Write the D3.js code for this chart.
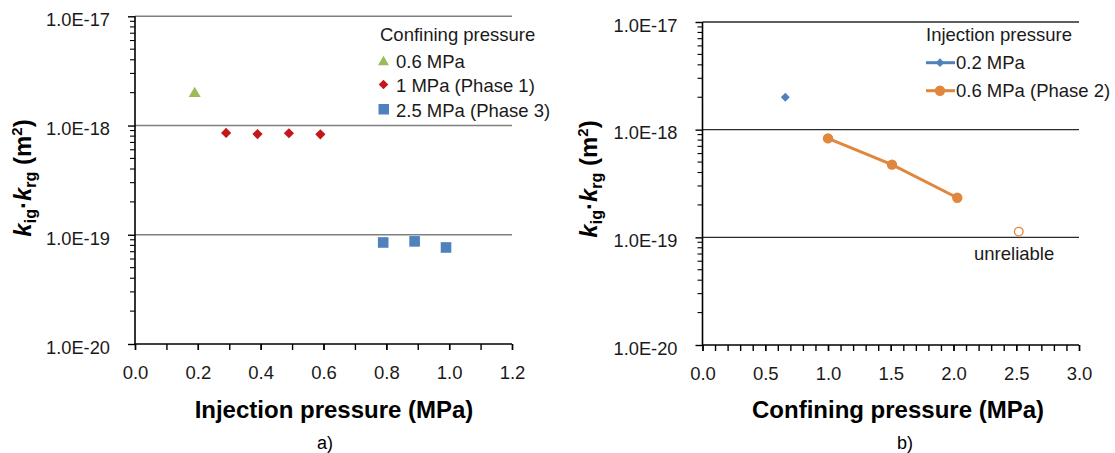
<!DOCTYPE html>
<html>
<head>
<meta charset="utf-8">
<script src="https://cdn.jsdelivr.net/npm/d3@7"></script>
<style>
  body { margin: 0; background: #fff; }
  svg { font-family: "Liberation Sans", Arial, sans-serif; }
</style>
</head>
<body>
<svg id="chart" width="1115" height="453"></svg>
<script>
// ---- data ----
// panel a) : x = injection pressure (MPa)
const confining06X = [0.19];
const confining06Y = [2.0e-18];
const confining1X = [0.29, 0.39, 0.49, 0.59];
const confining1Y = [8.55e-19, 8.35e-19, 8.5e-19, 8.3e-19];
const confining25X = [0.79, 0.89, 0.99];
const confining25Y = [8.5e-20, 8.7e-20, 7.65e-20];

// panel b) : x = confining pressure (MPa)
const injection02X = [0.66];
const injection02Y = [2.0e-18];
const injection06X = [1.0, 1.51, 2.03];
const injection06Y = [8.3e-19, 4.73e-19, 2.33e-19];
const unreliableX = [2.52];
const unreliableY = [1.13e-19];

const yTicks = [1e-20, 1e-19, 1e-18, 1e-17];
const yTickLabels = ['1.0E-20', '1.0E-19', '1.0E-18', '1.0E-17'];
const xTicksA = [0, 0.2, 0.4, 0.6, 0.8, 1.0, 1.2];
const xTicksB = [0, 0.5, 1.0, 1.5, 2.0, 2.5, 3.0];

const legendA = ['0.6 MPa', '1 MPa (Phase 1)', '2.5 MPa (Phase 3)'];
const legendB = ['0.2 MPa', '0.6 MPa (Phase 2)'];

const colors = {
    green: '#9bbb59',
    red: '#c4161c',
    blue: '#4f81bd',
    orange: '#e0873d',
}

const svg = d3.select('#chart');
const FS = 18.5; // tick / legend font size

function drawPanel(p) {
    let g = svg.append('g');
    let x = d3.scaleLinear().domain([0, p.xMax]).range([p.left, p.right]);
    let y = d3.scaleLog().domain([1e-20, 1e-17]).range([p.bottom, p.top]);

    // gridlines at each decade
    g.selectAll('.grid')
        .data(yTicks.slice(1))
        .enter()
        .append('line')
        .attr('x1', p.left).attr('x2', p.right)
        .attr('y1', d => y(d)).attr('y2', d => y(d))
        .attr('stroke', p.gridColor)
        .attr('stroke-width', 1.4)

    // minor y ticks (2..9 in each decade)
    let minor = [];
    for (let e = -20; e < -17; e++) {
        for (let m = 2; m < 10; m++) minor.push(m * Math.pow(10, e));
    }
    g.selectAll('.minor')
        .data(minor)
        .enter()
        .append('line')
        .attr('x1', p.left - 5).attr('x2', p.left)
        .attr('y1', d => y(d)).attr('y2', d => y(d))
        .attr('stroke', '#000')
        .attr('stroke-width', 1.1)

    // y axis with major ticks
    let yAxis = d3.axisLeft(y)
        .tickValues(yTicks)
        .tickFormat((d, i) => yTickLabels[i])
        .tickSize(7)
        .tickPadding(18)
    let ya = g.append('g').attr('transform', 'translate(' + p.left + ',0)').call(yAxis);
    ya.select('.domain').attr('stroke-width', 1.6).attr('d', 'M0,' + p.top + 'V' + p.bottom);
    ya.selectAll('.tick line').attr('stroke-width', 1.4);
    // labels in the picture are narrow: squeeze them to their width
    ya.selectAll('text').attr('font-size', FS).attr('fill', '#1a1a1a')
        .attr('font-family', '"Liberation Sans", Arial, sans-serif')
        .attr('dy', '0.5em')
        .attr('textLength', 64).attr('lengthAdjust', 'spacingAndGlyphs');

    // x axis: ticks every 0.1, labels on majors
    let xAxisMinor = d3.axisBottom(x)
        .tickValues(d3.range(0, Math.round(p.xMax * 10) + 1).map(i => i / 10))
        .tickFormat('')
        .tickSize(6)
    let xm = g.append('g').attr('transform', 'translate(0,' + p.bottom + ')').call(xAxisMinor);
    xm.select('.domain').remove();
    xm.selectAll('.tick line').attr('stroke-width', 1.4);

    let xAxis = d3.axisBottom(x)
        .tickValues(p.xTicks)
        .tickFormat(d3.format('.1f'))
        .tickSize(6)
        .tickPadding(16)
    let xa = g.append('g').attr('transform', 'translate(0,' + p.bottom + ')').call(xAxis);
    xa.select('.domain').attr('stroke-width', 1.6).attr('d', 'M' + p.left + ',0H' + p.right);
    xa.selectAll('.tick line').attr('stroke-width', 1.4);
    xa.selectAll('text').attr('font-size', FS).attr('fill', '#1a1a1a')
        .attr('font-family', '"Liberation Sans", Arial, sans-serif');

    // axis titles
    g.append('text')
        .attr('x', p.titleX).attr('y', 418)
        .attr('text-anchor', 'middle')
        .attr('font-size', 24).attr('font-weight', 'bold')
        .attr('font-family', 'Arial, "Liberation Sans", sans-serif')
        .text(p.xTitle)

    g.append('text')
        .attr('x', p.captionX).attr('y', 449)
        .attr('text-anchor', 'middle')
        .attr('font-size', 18)
        .text(p.caption)

    let yt = g.append('text')
        .attr('transform', 'translate(' + p.yTitleX + ',' + p.yTitleY + ') rotate(-90)')
        .attr('text-anchor', 'middle')
        .attr('font-size', 24).attr('font-weight', 'bold')
    yt.append('tspan').attr('font-style', 'italic').text('k');
    yt.append('tspan').attr('font-size', 16).attr('dy', 5).text('ig');
    yt.append('tspan').attr('dy', -5).text('·');
    yt.append('tspan').attr('font-style', 'italic').text('k');
    yt.append('tspan').attr('font-size', 16).attr('dy', 5).text('rg');
    yt.append('tspan').attr('dy', -5).text('\u00a0(m');
    yt.append('tspan').attr('font-size', 15).attr('dy', -9).text('2');
    yt.append('tspan').attr('dy', 9).text(')');

    return {g: g, x: x, y: y};
}

function zip(xs, ys) { return xs.map((v, i) => ({x: v, y: ys[i]})); }

// ---- panel a ----
let a = drawPanel({
    left: 135, right: 512, top: 16.3, bottom: 344, xMax: 1.2,
    xTicks: xTicksA, gridColor: '#7f7f7f',
    xTitle: 'Injection pressure (MPa)', titleX: 334, caption: 'a)', captionX: 325,
    yTitleX: 31, yTitleY: 178,
});

a.g.selectAll('.tri')
    .data(zip(confining06X, confining06Y))
    .enter()
    .append('path')
    .attr('d', d3.symbol(d3.symbolTriangle, 62))
    .attr('transform', d => 'translate(' + a.x(d.x) + ',' + (a.y(d.y) + 1) + ')')
    .attr('fill', colors.green)

a.g.selectAll('.dia')
    .data(zip(confining1X, confining1Y))
    .enter()
    .append('path')
    .attr('d', d3.symbol(d3.symbolSquare, 52))
    .attr('transform', d => 'translate(' + a.x(d.x) + ',' + a.y(d.y) + ') rotate(45)')
    .attr('fill', colors.red)

a.g.selectAll('.sq')
    .data(zip(confining25X, confining25Y))
    .enter()
    .append('rect')
    .attr('x', d => a.x(d.x) - 5.3).attr('y', d => a.y(d.y) - 5.3)
    .attr('width', 10.6).attr('height', 10.6)
    .attr('fill', colors.blue)

// legend a
let la = a.g.append('g').attr('font-size', FS).attr('fill', '#1a1a1a');
la.append('text').attr('x', 380).attr('y', 41).text('Confining pressure');
legendA.forEach((t, i) => {
    la.append('text').attr('x', 396).attr('y', 67.5 + i * 24.5).text(t);
});
la.append('path').attr('d', d3.symbol(d3.symbolTriangle, 52))
    .attr('transform', 'translate(383.5,62)').attr('fill', colors.green);
la.append('path').attr('d', d3.symbol(d3.symbolSquare, 46))
    .attr('transform', 'translate(383.5,84.5) rotate(45)').attr('fill', colors.red);
la.append('rect').attr('x', 378.5).attr('y', 104).attr('width', 10.5).attr('height', 10.5)
    .attr('fill', colors.blue);

// ---- panel b ----
let b = drawPanel({
    left: 702.5, right: 1079, top: 22, bottom: 345, xMax: 3.0,
    xTicks: xTicksB, gridColor: '#2a2a2a',
    xTitle: 'Confining pressure (MPa)', titleX: 898, caption: 'b)', captionX: 905,
    yTitleX: 597, yTitleY: 179,
});

b.g.selectAll('.bdia')
    .data(zip(injection02X, injection02Y))
    .enter()
    .append('path')
    .attr('d', d3.symbol(d3.symbolSquare, 40))
    .attr('transform', d => 'translate(' + b.x(d.x) + ',' + b.y(d.y) + ') rotate(45)')
    .attr('fill', colors.blue)

let line = d3.line().x(d => b.x(d.x)).y(d => b.y(d.y));
b.g.append('path')
    .datum(zip(injection06X, injection06Y))
    .attr('d', line)
    .attr('fill', 'none')
    .attr('stroke', colors.orange)
    .attr('stroke-width', 3)

b.g.selectAll('.dot')
    .data(zip(injection06X, injection06Y))
    .enter()
    .append('circle')
    .attr('cx', d => b.x(d.x)).attr('cy', d => b.y(d.y))
    .attr('r', 5.2)
    .attr('fill', colors.orange)

b.g.selectAll('.hollow')
    .data(zip(unreliableX, unreliableY))
    .enter()
    .append('circle')
    .attr('cx', d => b.x(d.x)).attr('cy', d => b.y(d.y))
    .attr('r', 4.3)
    .attr('fill', '#fff')
    .attr('stroke', colors.orange)
    .attr('stroke-width', 1.3)

b.g.append('text')
    .attr('x', 974).attr('y', 260)
    .attr('font-size', FS).attr('fill', '#1a1a1a')
    .text('unreliable')

// legend b
let lb = b.g.append('g').attr('font-size', FS).attr('fill', '#1a1a1a');
lb.append('text').attr('x', 926).attr('y', 41).text('Injection pressure');
legendB.forEach((t, i) => {
    lb.append('text').attr('x', 956).attr('y', 69 + i * 28).text(t);
});
lb.append('line').attr('x1', 926).attr('x2', 955).attr('y1', 62.7).attr('y2', 62.7)
    .attr('stroke', colors.blue).attr('stroke-width', 3);
lb.append('path').attr('d', d3.symbol(d3.symbolSquare, 38))
    .attr('transform', 'translate(940,62.7) rotate(45)').attr('fill', colors.blue);
lb.append('line').attr('x1', 926).attr('x2', 955).attr('y1', 90.7).attr('y2', 90.7)
    .attr('stroke', colors.orange).attr('stroke-width', 3);
lb.append('circle').attr('cx', 940).attr('cy', 90.7).attr('r', 5.2).attr('fill', colors.orange);
</script>
</body>
</html>
